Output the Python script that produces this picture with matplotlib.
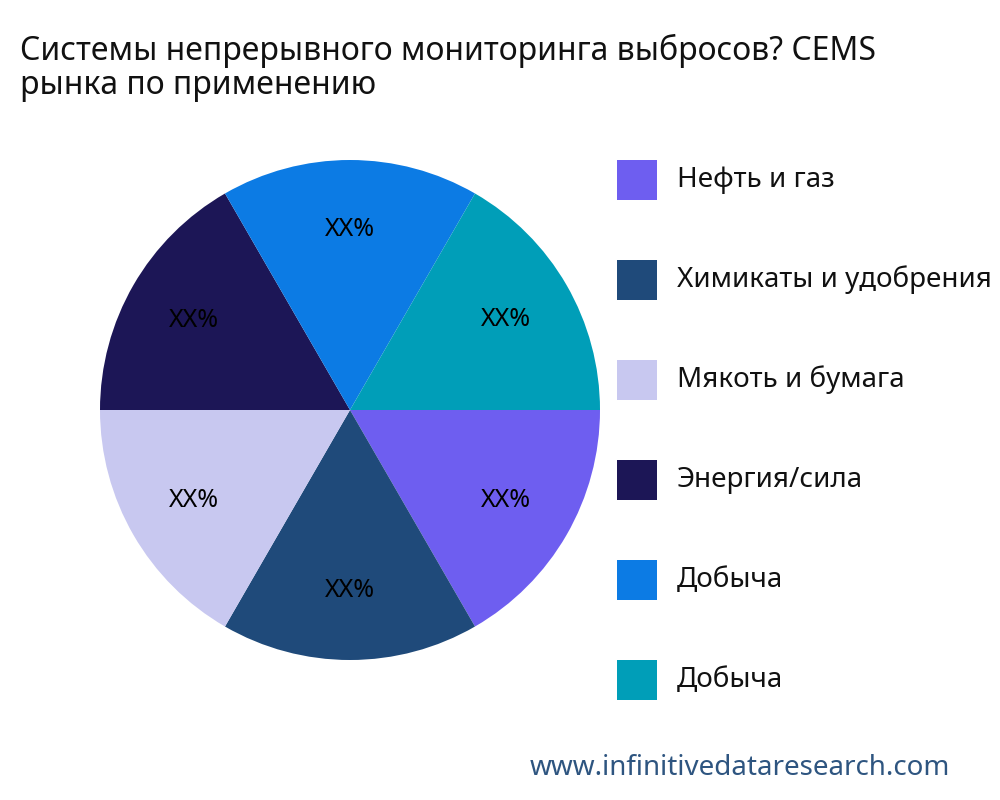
import matplotlib
matplotlib.use("Agg")
import matplotlib.pyplot as plt
import numpy as np
from matplotlib.patches import Rectangle

plt.rcParams['font.family'] = ['Noto Sans', 'DejaVu Sans']

categories = ["Нефть и газ", "Химикаты и удобрения", "Мякоть и бумага", "Энергия/сила", "Добыча", "Добыча"]
values = [1, 1, 1, 1, 1, 1]
labels = ["XX%"] * 6
colors = ["#6E5EF0", "#1F4A7A", "#C8C8F0", "#1C1656", "#0C7BE4", "#009EB8"]

fig = plt.figure(figsize=(10, 8), dpi=100)
ax = fig.add_axes([0.1, 0.175, 0.5, 0.625])
wedges, _ = ax.pie(values, colors=colors, startangle=0, counterclock=False)
ax.set_xlim(-1, 1)
ax.set_ylim(-1, 1)
ax.set_aspect('equal')
for w, lab in zip(wedges, labels):
    ang = np.deg2rad((w.theta1 + w.theta2) / 2)
    ax.text(0.72 * np.cos(ang), 0.72 * np.sin(ang), lab, ha='center', va='center', fontsize=18, color='black')

fig.text(0.02, 0.915, "Системы непрерывного мониторинга выбросов? CEMS\nрынка по применению",
         fontsize=23, va='center', ha='left', color='#111111', linespacing=1.05)

for i, cat in enumerate(categories):
    yc = 1 - (180 + 100 * i) / 800
    fig.patches.append(Rectangle((0.617, yc - 0.025), 0.04, 0.05, transform=fig.transFigure,
                                 facecolor=colors[i], edgecolor='none'))
    fig.text(0.677, yc, cat, fontsize=20, va='center', ha='left', color='#111111')

fig.text(0.74, 1 - 768 / 800, "www.infinitivedataresearch.com", fontsize=20,
         ha='center', va='center', color='#2E5580')

fig.savefig("out.png", dpi=100)
